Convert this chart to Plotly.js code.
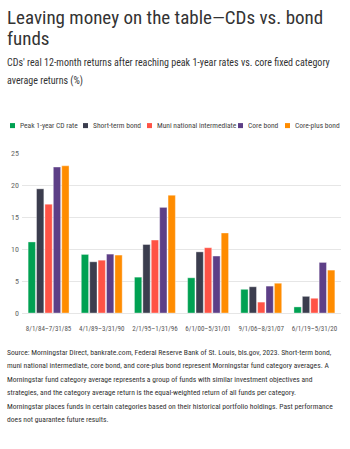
<!DOCTYPE html>
<html>
<head>
<meta charset="utf-8">
<script src="https://cdn.plot.ly/plotly-3.0.1.min.js"></script>
<style>
  html, body { margin: 0; padding: 0; background: #fff; }
  #chart { width: 350px; height: 449px; }
</style>
</head>
<body>
<div id="chart"></div>
<script>
// ---------- DATA ----------
const categories = ["8/1/84–7/31/85", "4/1/89–3/31/90", "2/1/95–1/31/96", "6/1/00–5/31/01", "9/1/06–8/31/07", "6/1/19–5/31/20"];
const seriesNames = ["Peak 1-year CD rate", "Short-term bond", "Muni national intermediate", "Core bond", "Core-plus bond"];
const peakCD      = [11.1, 9.15, 5.6, 5.5, 3.7, 0.95];
const shortTerm   = [19.4, 8.0, 10.7, 9.55, 4.1, 2.6];
const muniInter   = [17.0, 8.25, 11.4, 10.2, 1.7, 2.3];
const coreBond    = [22.8, 9.2, 16.5, 8.9, 4.2, 7.9];
const corePlus    = [23.0, 9.05, 18.4, 12.5, 4.65, 6.7];
const yTicks      = [0, 5, 10, 15, 20, 25];

const titleLines = ["Leaving money on the table—CDs vs. bond", "funds"];
const subtitleLines = ["CDs' real 12-month returns after reaching peak 1-year rates vs. core fixed category", "average returns (%)"];
const sourceLines = [
  "Source: Morningstar Direct, bankrate.com, Federal Reserve Bank of St. Louis, bls.gov, 2023. Short-term bond,",
  "muni national intermediate, core bond, and core-plus bond represent Morningstar fund category averages. A",
  "Morningstar fund category average represents a group of funds with similar investment objectives and",
  "strategies, and the category average return is the equal-weighted return of all funds per category.",
  "Morningstar places funds in certain categories based on their historical portfolio holdings. Past performance",
  "does not guarantee future results."
];

// ---------- STYLE ----------
const colors = ["#00a152", "#3b3d4e", "#ff5346", "#5d3f87", "#ff8c00"];
const seriesValues = [peakCD, shortTerm, muniInter, coreBond, corePlus];
const FONT = "Liberation Sans Narrow, Roboto Condensed, Liberation Sans, Arial, sans-serif";

const W = 350, H = 449;
const L = 22, R = 341, T = 153.3, B = 312.7;
const xp = x => (x - L) / (R - L);
const yp = y => (B - y) / (B - T);

const traces = seriesNames.map((name, i) => ({
  type: "bar",
  name: name,
  x: categories,
  y: seriesValues[i],
  marker: { color: colors[i], line: { color: "rgba(255,255,255,0.45)", width: 0.8 } },
  hoverinfo: "x+y+name"
}));

const annotations = [];
const shapes = [];

// title
const titleY = [18.5, 39.5];
titleLines.forEach((t, i) => annotations.push({
  text: t, xref: "paper", yref: "paper", x: xp(5), y: yp(titleY[i]),
  xanchor: "left", yanchor: "middle", showarrow: false,
  font: { family: FONT, size: 19, color: "#333333" }
}));
// subtitle
const subY = [63.5, 81.8];
subtitleLines.forEach((t, i) => annotations.push({
  text: t, xref: "paper", yref: "paper", x: xp(5), y: yp(subY[i]),
  xanchor: "left", yanchor: "middle", showarrow: false,
  font: { family: FONT, size: 10, color: "#333333" }
}));
// custom legend
const legSq = [10, 83, 147, 238, 285];
const legY = 126;
seriesNames.forEach((n, i) => {
  shapes.push({
    type: "rect", xref: "paper", yref: "paper",
    x0: xp(legSq[i]), x1: xp(legSq[i] + 5), y0: yp(legY + 2.5), y1: yp(legY - 2.5),
    fillcolor: colors[i], line: { width: 0 }
  });
  annotations.push({
    text: n, xref: "paper", yref: "paper", x: xp(legSq[i] + 7.5), y: yp(legY),
    xanchor: "left", yanchor: "middle", showarrow: false,
    font: { family: FONT, size: 7.5, color: "#444444" }
  });
});
// source footnote
const srcY0 = 351.7, srcStep = 13.5;
sourceLines.forEach((t, i) => annotations.push({
  text: t, xref: "paper", yref: "paper", x: xp(5), y: yp(srcY0 + i * srcStep),
  xanchor: "left", yanchor: "middle", showarrow: false,
  font: { family: FONT, size: 7.6, color: "#333333" }
}));

const layout = {
  width: W, height: H,
  margin: { l: L, r: W - R, t: T, b: H - B, pad: 0 },
  paper_bgcolor: "#ffffff", plot_bgcolor: "#ffffff",
  showlegend: false,
  barmode: "group",
  bargap: 0.21,
  bargroupgap: 0.13,
  font: { family: FONT, color: "#555555" },
  xaxis: {
    type: "category",
    tickfont: { family: FONT, size: 7, color: "#555555" },
    ticks: "outside", ticklen: 9, tickcolor: "rgba(0,0,0,0)",
    showline: false, showgrid: false, zeroline: false
  },
  yaxis: {
    range: [0, 25],
    tickvals: yTicks,
    tickfont: { family: FONT, size: 8, color: "#666666" },
    showgrid: true, gridcolor: "#e6e6e6", gridwidth: 1,
    zeroline: true, zerolinecolor: "#e6e6e6", zerolinewidth: 1,
    showline: false, ticks: "", ticklabelstandoff: 2
  },
  annotations: annotations,
  shapes: shapes
};

Plotly.newPlot("chart", traces, layout, { staticPlot: true, displayModeBar: false });
</script>
</body>
</html>
